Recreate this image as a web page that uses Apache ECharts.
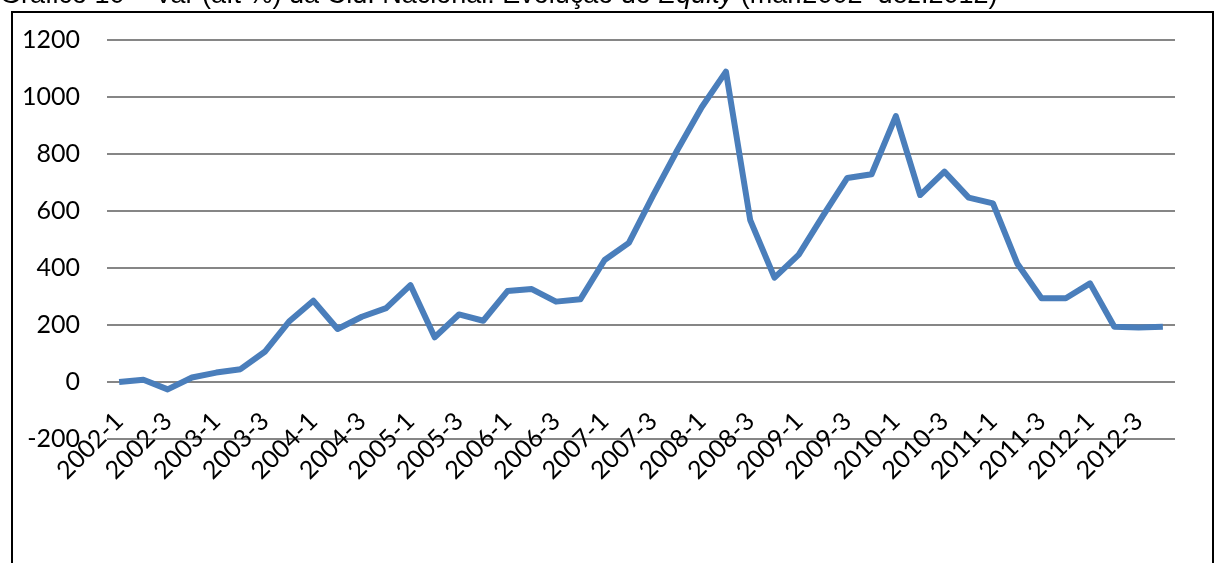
<!DOCTYPE html>
<html><head><meta charset="utf-8">
<script src="https://cdn.jsdelivr.net/npm/echarts@6/dist/echarts.min.js"></script>
<style>html,body{margin:0;padding:0;background:#fff}#c{width:1214px;height:563px}</style>
</head><body><div id="c"></div>
<script>
const categories = [];
const years = [2002,2003,2004,2005,2006,2007,2008,2009,2010,2011,2012];
for (const y of years) for (let q = 1; q <= 4; q++) categories.push(y + '-' + q);
const values = [0, 8, -26, 16, 33, 45, 106, 212, 285, 186, 229, 259,
  340, 157, 237, 215, 319, 326, 282, 290, 428, 488, 655, 814,
  964, 1089, 568, 366, 447, 584, 716, 729, 933, 656, 738, 647,
  627, 416, 294, 294, 346, 194, 191, 194];
const yTicks = { min: -200, max: 1200, interval: 200 };
const titleParts = ['Gráfico 10 – Var (a.t %) da Cid. Nacional: Evolução do ', 'Equity', ' (mar.2002–dez.2012)'];

const chart = echarts.init(document.getElementById('c'), null, { renderer: 'canvas' });
chart.setOption({
  animation: false,
  backgroundColor: '#fff',
  grid: { left: 107, right: 39, top: 40, bottom: 124, containLabel: false },
  xAxis: {
    type: 'category', data: categories, boundaryGap: true,
    axisLine: { show: false }, axisTick: { show: false },
    axisLabel: { interval: 1, rotate: 45, margin: -22, color: '#000', fontFamily: 'Lato', fontSize: 25 }
  },
  yAxis: {
    type: 'value', min: yTicks.min, max: yTicks.max, interval: yTicks.interval,
    axisLine: { show: false }, axisTick: { show: false },
    axisLabel: { margin: 27, color: '#000', fontFamily: 'Lato', fontSize: 25, formatter: v => String(v) },
    splitLine: { lineStyle: { color: '#868686', width: 2 } }
  },
  series: [{
    type: 'line', data: values, symbol: 'none',
    lineStyle: { color: '#4a7ebb', width: 6, join: 'round' }
  }],
  graphic: [
    { type: 'rect', shape: { x: 12, y: 12, width: 1201, height: 600 },
      style: { fill: 'none', stroke: '#000', lineWidth: 2 }, silent: true },
    { type: 'text', left: 0, top: -18,
      style: { text: '{n|' + titleParts[0] + '}{i|' + titleParts[1] + '}{n|' + titleParts[2] + '}',
        rich: { n: { fontFamily: 'Liberation Sans', fontSize: 27, fill: '#000' },
                i: { fontFamily: 'Liberation Sans', fontSize: 27, fontStyle: 'italic', fill: '#000' } } } }
  ]
});
</script></body></html>
